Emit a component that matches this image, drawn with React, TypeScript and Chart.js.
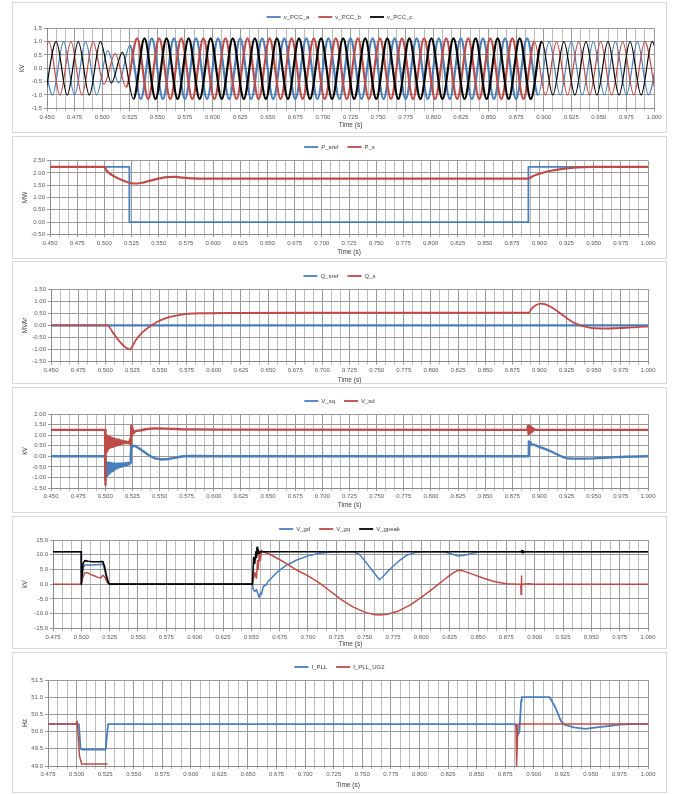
import React, { useEffect, useRef } from "react";
import { Chart, registerables } from "chart.js";
Chart.register(...registerables);

const BLUE = "#4A7EBB";
const RED = "#BE4B48";
const BLACK = "#000000";
const FONT = "'Liberation Sans', Arial, sans-serif";

// ---------- Panel 1: three-phase PCC voltage (extrema) ----------
const VPCC_HALF_PERIOD = 0.01;
const VPCC_A_T0 = 0.445;
const VPCC_B_T0 = 0.44167;
const VPCC_C_T0 = 0.44833;
const vPccA = [1.0, -1.0, 1.0, -1.0, 1.0, -1.0, 0.65, -0.55, 0.85,
  -1.15, 1.12, -1.15, 1.12, -1.15, 1.12, -1.15, 1.12, -1.15, 1.12, -1.15, 1.12, -1.15, 1.12, -1.15, 1.12, -1.15, 1.12,
  -1.15, 1.12, -1.15, 1.12, -1.15, 1.12, -1.15, 1.12, -1.15, 1.12, -1.15, 1.12, -1.15, 1.12, -1.15, 1.12, -1.15, 1.12,
  -1.0, 1.0, -1.0, 1.0, -1.0, 1.0, -1.0, 1.0, -1.0, 1.0, -1.0, 1.0];
const vPccB = [-1.0, 1.0, -1.0, 1.0, -1.0, 1.0, -0.6, 0.55, -0.7,
  1.12, -1.15, 1.12, -1.15, 1.12, -1.15, 1.12, -1.15, 1.12, -1.15, 1.12, -1.15, 1.12, -1.15, 1.12, -1.15, 1.12, -1.15,
  1.12, -1.15, 1.12, -1.15, 1.12, -1.15, 1.12, -1.15, 1.12, -1.15, 1.12, -1.15, 1.12, -1.15, 1.12, -1.15, 1.12, -1.15,
  1.0, -1.0, 1.0, -1.0, 1.0, -1.0, 1.0, -1.0, 1.0, -1.0, 1.0, -1.0];
const vPccC = [-1.0, 1.0, -1.0, 1.0, -1.0, 1.0, -0.55, 0.6,
  -1.15, 1.12, -1.15, 1.12, -1.15, 1.12, -1.15, 1.12, -1.15, 1.12, -1.15, 1.12, -1.15, 1.12, -1.15, 1.12, -1.15, 1.12,
  -1.15, 1.12, -1.15, 1.12, -1.15, 1.12, -1.15, 1.12, -1.15, 1.12, -1.15, 1.12, -1.15, 1.12, -1.15, 1.12, -1.15, 1.12, -1.15,
  1.0, -1.0, 1.0, -1.0, 1.0, -1.0, 1.0, -1.0, 1.0, -1.0, 1.0, -1.0];

// ---------- Panel 2: active power ----------
const pSrefTime = [0.45, 0.523, 0.523, 0.89, 0.89, 1.0];
const pSref = [2.25, 2.25, 0.0, 0.0, 2.25, 2.25];
const pSTime = [0.45, 0.5, 0.502, 0.505, 0.51, 0.515, 0.52, 0.525, 0.53, 0.535, 0.54, 0.546, 0.552, 0.558, 0.565, 0.572, 0.58, 0.6, 0.89, 0.893, 0.898, 0.905, 0.912, 0.92, 0.93, 0.94, 0.95, 1.0];
const pS = [2.25, 2.25, 2.1, 1.97, 1.84, 1.73, 1.64, 1.58, 1.57, 1.6, 1.66, 1.73, 1.79, 1.83, 1.84, 1.81, 1.78, 1.77, 1.77, 1.85, 1.94, 2.03, 2.1, 2.16, 2.21, 2.24, 2.25, 2.25];

// ---------- Panel 3: reactive power ----------
const qSrefTime = [0.45, 1.0];
const qSref = [0, 0];
const qSTime = [0.45, 0.502, 0.507, 0.512, 0.517, 0.521, 0.523, 0.525, 0.529, 0.534, 0.54, 0.548, 0.556, 0.565, 0.575, 0.59, 0.62, 0.7, 0.89, 0.893, 0.897, 0.901, 0.905, 0.909, 0.914, 0.919, 0.924, 0.929, 0.934, 0.94, 0.946, 0.952, 0.96, 0.97, 0.98, 0.99, 1.0];
const qS = [0, 0, -0.3, -0.6, -0.85, -0.97, -1.0, -0.85, -0.55, -0.3, -0.08, 0.15, 0.3, 0.4, 0.47, 0.5, 0.51, 0.52, 0.52, 0.7, 0.84, 0.9, 0.88, 0.8, 0.66, 0.5, 0.33, 0.18, 0.06, -0.03, -0.09, -0.12, -0.13, -0.12, -0.1, -0.07, -0.05];

// ---------- Panel 4: converter dq voltages ----------
const vSqTime = [0.45, 0.4998, 0.5, 0.5004, 0.5008, 0.5012, 0.5016, 0.502, 0.5025, 0.503, 0.5036, 0.5042, 0.5048, 0.5055, 0.5062, 0.507, 0.5078, 0.5086, 0.5094, 0.5102, 0.511, 0.5118, 0.5126, 0.5134, 0.5142, 0.515, 0.516, 0.517, 0.518, 0.519, 0.52, 0.521, 0.522, 0.523, 0.5235, 0.524, 0.525, 0.527, 0.531, 0.536, 0.541, 0.546, 0.552, 0.558, 0.565, 0.572, 0.58, 0.6, 0.8898, 0.8902, 0.8908, 0.8914, 0.892, 0.895, 0.9, 0.905, 0.91, 0.915, 0.92, 0.925, 0.93, 0.94, 0.95, 0.96, 0.97, 0.98, 1.0];
const vSq = [0, 0, -1.1, -0.3, -0.95, -0.35, -0.9, -0.3, -0.85, -0.3, -0.8, -0.32, -0.75, -0.33, -0.7, -0.34, -0.65, -0.35, -0.6, -0.35, -0.56, -0.35, -0.52, -0.35, -0.5, -0.34, -0.47, -0.33, -0.45, -0.32, -0.42, -0.3, -0.38, -0.3, 0.1, 0.6, 0.45, 0.5, 0.38, 0.2, 0.02, -0.1, -0.15, -0.13, -0.06, 0, 0.01, 0, 0, 0.7, 0.5, 0.65, 0.55, 0.55, 0.45, 0.35, 0.25, 0.12, 0.0, -0.09, -0.11, -0.11, -0.1, -0.07, -0.04, -0.02, 0];
const vSdTime = [0.45, 0.4998, 0.5, 0.5004, 0.5008, 0.5012, 0.5016, 0.502, 0.5025, 0.503, 0.5036, 0.5042, 0.5048, 0.5055, 0.5062, 0.507, 0.5078, 0.5086, 0.5094, 0.5102, 0.511, 0.5118, 0.5126, 0.5134, 0.5142, 0.515, 0.516, 0.517, 0.518, 0.519, 0.52, 0.521, 0.522, 0.523, 0.5235, 0.524, 0.5245, 0.525, 0.526, 0.528, 0.532, 0.537, 0.545, 0.555, 0.57, 0.6, 0.889, 0.8895, 0.89, 0.8905, 0.891, 0.8915, 0.892, 0.8925, 0.893, 0.8935, 0.894, 0.895, 0.897, 1.0];
const vSd = [1.25, 1.25, -1.35, 1.05, 0.2, 1.0, 0.3, 0.95, 0.35, 0.92, 0.4, 0.9, 0.42, 0.88, 0.45, 0.85, 0.48, 0.82, 0.5, 0.8, 0.52, 0.78, 0.55, 0.76, 0.57, 0.74, 0.6, 0.72, 0.62, 0.7, 0.63, 0.68, 0.62, 0.8, 0.55, 1.45, 1.0, 1.35, 1.1, 1.2, 1.22, 1.28, 1.32, 1.31, 1.28, 1.26, 1.25, 1.45, 1.05, 1.42, 1.08, 1.4, 1.12, 1.36, 1.15, 1.32, 1.2, 1.28, 1.25, 1.25];

// ---------- Panel 5: grid dq voltages ----------
const vGdTime = [0.475, 0.4999, 0.5, 0.5015, 0.503, 0.51, 0.519, 0.5205, 0.522, 0.524, 0.525, 0.651, 0.6515, 0.653, 0.6545, 0.656, 0.657, 0.658, 0.659, 0.6605, 0.663, 0.665, 0.672, 0.68, 0.69, 0.7, 0.71, 0.72, 0.73, 0.74, 0.745, 0.75, 0.755, 0.76, 0.763, 0.766, 0.772, 0.78, 0.787, 0.795, 0.8, 0.82, 0.826, 0.832, 0.838, 0.845, 0.852, 1.0];
const vGd = [11, 11, 0, 5.5, 6.5, 6.5, 6.8, 5, 2.5, 0.3, 0, 0, -1.5, -2.5, -1.8, -3.5, -4.5, -3, -3.5, -0.8, -0.2, 1.0, 3.8, 6.2, 8.2, 9.6, 10.5, 10.9, 11, 11, 10.2, 8.0, 5.5, 3.0, 1.5, 2.5, 5.0, 7.8, 9.8, 10.8, 11, 11, 10.3, 9.6, 9.8, 10.5, 11, 11];
const vGqTime = [0.475, 0.4999, 0.5015, 0.503, 0.505, 0.51, 0.515, 0.517, 0.519, 0.5205, 0.523, 0.525, 0.651, 0.653, 0.6545, 0.6555, 0.656, 0.657, 0.658, 0.659, 0.66, 0.665, 0.67, 0.68, 0.69, 0.7, 0.71, 0.72, 0.73, 0.74, 0.75, 0.758, 0.763, 0.77, 0.78, 0.79, 0.8, 0.81, 0.82, 0.828, 0.832, 0.836, 0.845, 0.855, 0.865, 0.875, 0.885, 0.8878, 0.888, 0.8883, 0.8886, 0.889, 0.895, 0.9, 1.0];
const vGq = [0, 0, 2.5, 3.8, 3.9, 3.0, 2.3, 2.1, 3.0, 2.5, 0.5, 0, 0, 4, 2, 8, 5, 10.5, 8, 11.5, 11, 10.4, 9.4, 7.2, 4.8, 2.8, 0.4, -2.5, -5.4, -7.8, -9.5, -10.3, -10.5, -10.2, -9.1, -7.1, -4.5, -1.6, 1.5, 3.8, 4.7, 4.6, 3.4, 2.0, 0.8, 0.1, 0, 0, -3.5, 2.8, -0.5, 0, 0.1, 0, 0];
const vGpeakTime = [0.475, 0.4999, 0.5, 0.5015, 0.503, 0.506, 0.51, 0.515, 0.519, 0.5205, 0.522, 0.524, 0.525, 0.651, 0.652, 0.653, 0.654, 0.6545, 0.655, 0.6555, 0.656, 0.657, 0.658, 0.888, 0.8885, 0.889, 0.8895, 0.89, 0.8905, 0.891, 0.892, 1.0];
const vGpeak = [11, 11, 0, 7, 8.0, 7.8, 7.6, 7.6, 7.7, 6, 3, 0.3, 0, 0, 9, 7, 11, 9, 12.5, 10, 11.8, 10.5, 11, 11, 11.4, 10.7, 11.3, 10.8, 11.2, 10.9, 11, 11];

// ---------- Panel 6: PLL frequencies ----------
const fPllTime = [0.475, 0.502, 0.5035, 0.505, 0.5255, 0.5275, 0.8845, 0.886, 0.8875, 0.889, 0.8895, 0.914, 0.919, 0.924, 0.927, 0.935, 0.945, 0.955, 0.965, 0.975, 0.985, 1.0];
const fPll = [50.22, 50.22, 49.5, 49.48, 49.48, 50.22, 50.22, 49.9, 50.0, 50.9, 51.0, 51.0, 50.7, 50.3, 50.2, 50.12, 50.08, 50.12, 50.16, 50.2, 50.22, 50.22];
const fPllUg2Time = [0.475, 0.4995, 0.5005, 0.5025, 0.5045, 0.527, 0.53, 0.8845, 0.885, 0.8862, 1.0];
const fPllUg2 = [50.22, 50.22, 50.3, 49.3, 49.06, 49.06, null, 50.22, 49.0, 50.22, 50.22];

// ---------- helpers ----------
const X_MAJOR_STEP = 0.025;
const X_MINOR_PER_MAJOR = 3;
const pts = (xs: number[], ys: (number | null)[]) => xs.map((x, i) => ({ x, y: ys[i] }));
const ext = (t0: number, half: number, vals: number[]) => vals.map((v, i) => ({ x: t0 + i * half, y: v }));
const fix1 = (v: number) => v.toFixed(1);
const fix2 = (v: number) => v.toFixed(2);

const CANVAS_L = 13;
const CANVAS_R = 666;

const p1Width = (ctx: any) => {
  const x0 = ctx.p0.parsed.x;
  return x0 >= 0.52 && x0 < 0.89 ? 2.2 : 1.2;
};

const ds = (label: string, data: any[], color: string, width: number, extra: any = {}) => ({
  label, data, borderColor: color, backgroundColor: color, borderWidth: width,
  pointRadius: 0, fill: false, tension: 0, ...extra,
});

const PANELS = [
  {
    box: [2, 133], plot: { l: 47, r: 654, t: 28.3, b: 108.3 }, legendY: 17, yTitleX: 22, xTitleY: 125,
    xMin: 0.45, yMin: -1.5, yMax: 1.5, yStep: 0.5, yFmt: fix1, yTitle: "kV",
    datasets: [
      ds("v_PCC_a", ext(VPCC_A_T0, VPCC_HALF_PERIOD, vPccA), BLUE, 1.2, { cubicInterpolationMode: "monotone", segment: { borderWidth: p1Width } }),
      ds("v_PCC_b", ext(VPCC_B_T0, VPCC_HALF_PERIOD, vPccB), RED, 1.2, { cubicInterpolationMode: "monotone", segment: { borderWidth: p1Width } }),
      ds("v_PCC_c", ext(VPCC_C_T0, VPCC_HALF_PERIOD, vPccC), BLACK, 1.2, { cubicInterpolationMode: "monotone", segment: { borderWidth: p1Width } }),
    ],
  },
  {
    box: [136, 259], plot: { l: 50, r: 648, t: 160.7, b: 234.3 }, legendY: 147, yTitleX: 25, xTitleY: 252,
    xMin: 0.45, yMin: -0.5, yMax: 2.5, yStep: 0.5, yFmt: fix2, yTitle: "MW",
    datasets: [
      ds("P_sref", pts(pSrefTime, pSref), BLUE, 1.8),
      ds("P_s", pts(pSTime, pS), RED, 2.2, { cubicInterpolationMode: "monotone" }),
    ],
  },
  {
    box: [261, 384], plot: { l: 51, r: 648, t: 289, b: 361.7 }, legendY: 276, yTitleX: 25, xTitleY: 380,
    xMin: 0.45, yMin: -1.5, yMax: 1.5, yStep: 0.5, yFmt: fix2, yTitle: "MVAr",
    datasets: [
      ds("Q_sref", pts(qSrefTime, qSref), BLUE, 2.2),
      ds("Q_s", pts(qSTime, qS), RED, 1.8, { cubicInterpolationMode: "monotone" }),
    ],
  },
  {
    box: [387, 513], plot: { l: 51, r: 648, t: 414, b: 488 }, legendY: 401, yTitleX: 25, xTitleY: 505,
    xMin: 0.45, yMin: -1.5, yMax: 2.0, yStep: 0.5, yFmt: fix2, yTitle: "kV",
    datasets: [
      ds("V_sq", pts(vSqTime, vSq), BLUE, 2.4),
      ds("V_sd", pts(vSdTime, vSd), RED, 2.4),
    ],
  },
  {
    box: [516, 649], plot: { l: 53, r: 648, t: 540, b: 628.3 }, legendY: 529, yTitleX: 25, xTitleY: 644,
    xMin: 0.475, yMin: -15, yMax: 15, yStep: 5, yFmt: fix1, yTitle: "kV",
    datasets: [
      ds("V_gd", pts(vGdTime, vGd), BLUE, 1.5),
      ds("V_gq", pts(vGqTime, vGq), RED, 1.5),
      ds("V_gpeak", pts(vGpeakTime, vGpeak), BLACK, 1.6),
    ],
  },
  {
    box: [652, 793], plot: { l: 48, r: 648, t: 680, b: 766 }, legendY: 667, yTitleX: 25, xTitleY: 785,
    xMin: 0.475, yMin: 49.0, yMax: 51.5, yStep: 0.5, yFmt: fix1, yTitle: "Hz",
    datasets: [
      ds("f_PLL", pts(fPllTime, fPll), BLUE, 1.8),
      ds("f_PLL_UG2", pts(fPllUg2Time, fPllUg2), RED, 1.5),
    ],
  },
];

function ChartPanel({ spec }: { spec: any }) {
  const ref = useRef<HTMLCanvasElement>(null);
  const top = spec.box[0] + 1;
  const bottom = spec.box[1];
  const w = CANVAS_R - CANVAS_L;
  const h = bottom - top;

  useEffect(() => {
    const lhT = 6.5 * 1.2;
    const padLeft = spec.yTitleX - CANVAS_L - lhT / 2;
    const yW = spec.plot.l - CANVAS_L - padLeft;
    const padRight = CANVAS_R - spec.plot.r;
    const padTop = spec.plot.t - top;
    const xH = spec.xTitleY - spec.plot.b + lhT / 2;
    const padBottom = bottom - spec.plot.b - xH;
    const n = spec.datasets.length;
    const datasets = spec.datasets.map((d: any, i: number) => ({ ...d, order: n - i }));

    const legendPlugin = {
      id: "panelLegend",
      afterDraw(chart: any) {
        const ctx = chart.ctx;
        ctx.save();
        ctx.font = `6px ${FONT}`;
        const sample = 14, gap = 3, between = 9;
        const items = spec.datasets.map((d: any) => ({ label: d.label, color: d.borderColor }));
        const widths = items.map((it: any) => sample + gap + ctx.measureText(it.label).width);
        const total = widths.reduce((a: number, b: number) => a + b, 0) + between * (items.length - 1);
        let x = chart.width / 2 - total / 2;
        const y = spec.legendY - top;
        items.forEach((it: any, i: number) => {
          ctx.strokeStyle = it.color;
          ctx.lineWidth = 1.8;
          ctx.beginPath();
          ctx.moveTo(x, y);
          ctx.lineTo(x + sample, y);
          ctx.stroke();
          ctx.fillStyle = "#404040";
          ctx.textBaseline = "middle";
          ctx.textAlign = "left";
          ctx.fillText(it.label, x + sample + gap, y);
          x += widths[i] + between;
        });
        ctx.restore();
      },
    };

    const isMajorIdx = (i: number) => i % X_MINOR_PER_MAJOR === 0;

    const chart = new Chart(ref.current as HTMLCanvasElement, {
      type: "line",
      data: { datasets },
      options: {
        animation: false,
        responsive: false,
        maintainAspectRatio: false,
        layout: { padding: { left: padLeft, right: padRight, top: padTop, bottom: padBottom } },
        plugins: { legend: { display: false }, tooltip: { enabled: false } },
        elements: { point: { radius: 0 }, line: { borderJoinStyle: "round" } },
        scales: {
          x: {
            type: "linear",
            min: spec.xMin,
            max: 1.0,
            afterFit: (s: any) => { s.height = xH; s.paddingLeft = 0; s.paddingRight = 0; },
            ticks: {
              stepSize: X_MAJOR_STEP / X_MINOR_PER_MAJOR, autoSkip: false, maxRotation: 0, minRotation: 0, padding: 2,
              color: "#595959", font: { size: 6, family: FONT },
              callback: (v: any, i: number) => (isMajorIdx(i) ? Number(v).toFixed(3) : ""),
            },
            grid: {
              color: (c: any) => (isMajorIdx(c.index) ? "#9a9a9a" : "#bcbcbc"),
              tickLength: 3,
            },
            border: { color: "#8c8c8c" },
            title: { display: true, text: "Time (s)", color: "#404040", font: { size: 6.5, family: FONT }, padding: 0 },
          },
          y: {
            type: "linear",
            min: spec.yMin,
            max: spec.yMax,
            afterFit: (s: any) => { s.width = yW; s.paddingTop = 0; s.paddingBottom = 0; },
            ticks: {
              stepSize: spec.yStep, padding: 2, color: "#595959", font: { size: 6, family: FONT },
              callback: (v: any) => spec.yFmt(Number(v)),
            },
            grid: { color: "#9a9a9a", tickLength: 3 },
            border: { color: "#8c8c8c" },
            title: { display: true, text: spec.yTitle, color: "#404040", font: { size: 6.5, family: FONT }, padding: 0 },
          },
        },
      } as any,
      plugins: [legendPlugin],
    });
    return () => chart.destroy();
  }, []);

  return (
    <canvas
      ref={ref}
      width={w}
      height={h}
      style={{ position: "absolute", left: CANVAS_L, top, width: w, height: h }}
    />
  );
}

export default function App() {
  return (
    <div style={{ position: "absolute", left: 0, top: 0, width: 675, height: 794, background: "#ffffff", overflow: "hidden" }}>
      {PANELS.map((p, i) => (
        <div
          key={"box" + i}
          style={{
            position: "absolute", left: 12, top: p.box[0], width: 655, height: p.box[1] - p.box[0],
            border: "1px solid #d9d9d9", boxSizing: "border-box",
          }}
        />
      ))}
      {PANELS.map((p, i) => (
        <ChartPanel key={"c" + i} spec={p} />
      ))}
    </div>
  );
}
